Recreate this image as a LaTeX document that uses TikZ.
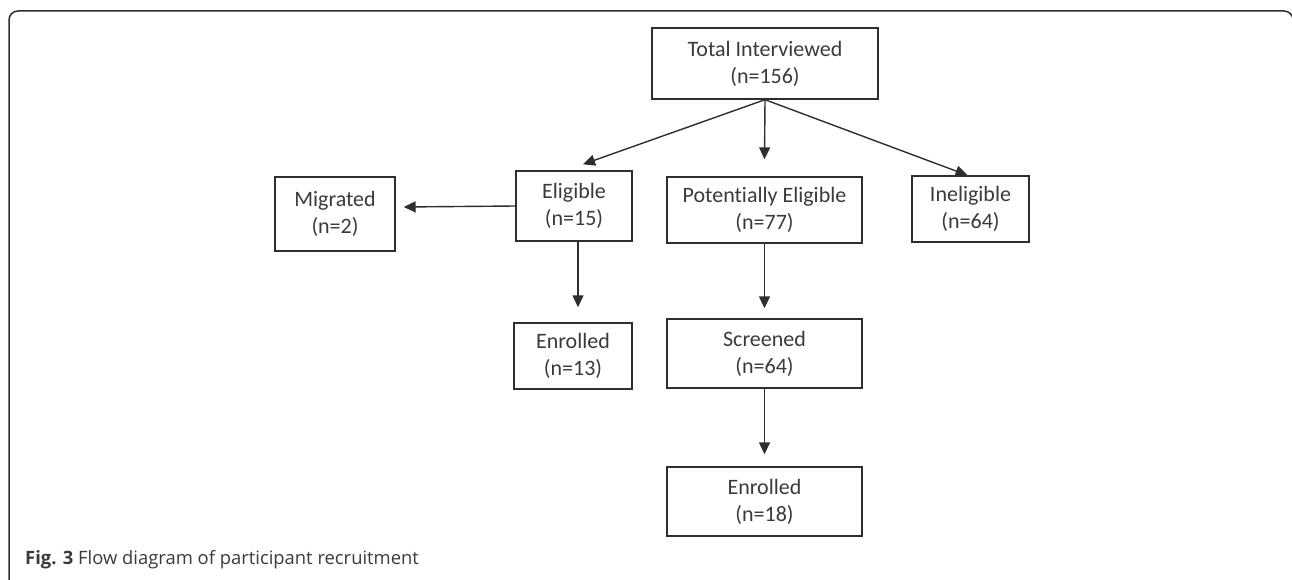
\documentclass[tikz,border=0pt]{standalone}
\usepackage{fontspec}
\setmainfont[Ligatures=NoCommon]{Carlito}
\newfontfamily\capfont{Open Sans}
\usetikzlibrary{arrows.meta}
\definecolor{ink}{HTML}{2E2E2E}
\definecolor{txt}{HTML}{3A3A3A}
\tikzset{
  boxnode/.style={draw=ink, line width=1.4pt, align=center, text=txt,
    font=\fontsize{22}{27}\selectfont, inner sep=0pt},
  arr/.style={draw=ink, line width=1.4pt, -{Triangle[length=12pt,width=11pt]}},
}
\begin{document}
\begin{tikzpicture}[x=1pt,y=-1pt]
\useasboundingbox (0,0) rectangle (1292,580);
\begin{scope}
\clip (0,0) rectangle (1292,580);
\draw[ink, line width=1.5pt, rounded corners=9pt] (9,600) -- (9,11) -- (1293,11) -- (1293,600);
\end{scope}

\node[boxnode, minimum width=226pt, minimum height=71pt] (tot) at (765,63.5) {Total Interviewed\\(n=156)};
\node[boxnode, minimum width=120pt, minimum height=74pt] (mig) at (335,214) {Migrated\\(n=2)};
\node[boxnode, minimum width=116pt, minimum height=70pt] (elig) at (574,206) {Eligible\\(n=15)};
\node[boxnode, minimum width=195pt, minimum height=66pt] (pot) at (764.5,210) {Potentially Eligible\\(n=77)};
\node[boxnode, minimum width=117pt, minimum height=66pt] (inel) at (970.5,209) {Ineligible\\(n=64)};
\node[boxnode, minimum width=118pt, minimum height=66pt] (enr1) at (573,356) {Enrolled\\(n=13)};
\node[boxnode, minimum width=195pt, minimum height=69pt] (scr) at (764.5,353.5) {Screened\\(n=64)};
\node[boxnode, minimum width=195pt, minimum height=69pt] (enr2) at (764.5,501.5) {Enrolled\\(n=18)};

\coordinate (eligtip) at ([shift={(9,-6)}]elig.north);
\coordinate (inetip) at ([shift={(-3,0)}]inel.north);
\coordinate (pottip) at ([shift={(0,-17)}]pot.north);
\coordinate (migtip) at ([shift={(8,-7)}]mig.east);
\coordinate (enr1tip) at ([shift={(5,-15)}]enr1.north);
\coordinate (scrtip) at ([shift={(0,-10)}]scr.north);
\coordinate (enr2tip) at ([shift={(0,-12)}]enr2.north);

\draw[arr] (tot.south) -- (eligtip);
\draw[arr] (tot.south) -- (pottip);
\draw[arr] (tot.south) -- (inetip);
\draw[arr] (elig.west) -- (migtip);
\draw[arr] ([xshift=4pt]elig.south) -- (enr1tip);
\draw[arr] (pot.south) -- (scrtip);
\draw[arr] (scr.south) -- (enr2tip);

\node[anchor=base west, inner sep=0pt, text=txt, font=\capfont\fontsize{18.4}{22}\selectfont] (cap) at (25,564) {\textbf{Fig. 3} Flow diagram of participant recruitment};
\end{tikzpicture}
\end{document}
